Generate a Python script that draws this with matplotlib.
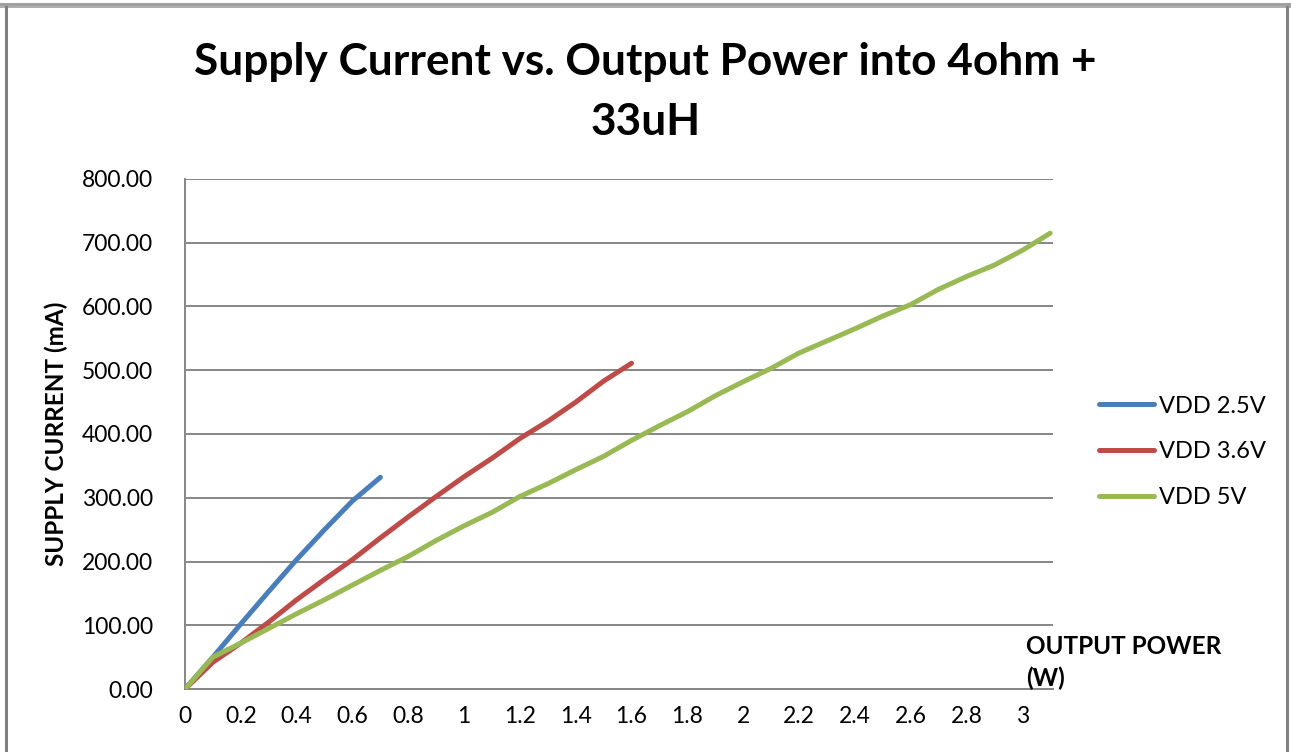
import matplotlib
matplotlib.use("Agg")
import matplotlib.pyplot as plt
from matplotlib.lines import Line2D

plt.rcParams["font.family"] = ["Lato", "DejaVu Sans"]

# ── Data ────────────────────────────────────────────────────────────────────
power_25 = [0, 0.1, 0.2, 0.3, 0.4, 0.5, 0.6, 0.7]
current_25 = [0, 50, 102, 153, 203, 250, 295, 332]

power_36 = [0, 0.1, 0.2, 0.3, 0.4, 0.5, 0.6, 0.7, 0.8, 0.9, 1.0, 1.1, 1.2,
            1.3, 1.4, 1.5, 1.6]
current_36 = [0, 42, 72, 105, 140, 172, 203, 237, 270, 302, 333, 362, 393,
              420, 450, 483, 511]

power_50 = [0, 0.1, 0.2, 0.3, 0.4, 0.5, 0.6, 0.7, 0.8, 0.9, 1.0, 1.1, 1.2,
            1.3, 1.4, 1.5, 1.6, 1.7, 1.8, 1.9, 2.0, 2.1, 2.2, 2.3, 2.4, 2.5,
            2.6, 2.7, 2.8, 2.9, 3.0, 3.1]
current_50 = [0, 50, 72, 95, 118, 140, 163, 186, 208, 233, 256, 277, 302,
              322, 344, 365, 390, 413, 435, 460, 482, 503, 527, 546, 565, 585,
              603, 627, 647, 665, 688, 715]

series_labels = ["VDD 2.5V", "VDD 3.6V", "VDD 5V"]
x_ticks = [0, 0.2, 0.4, 0.6, 0.8, 1, 1.2, 1.4, 1.6, 1.8, 2, 2.2, 2.4, 2.6,
           2.8, 3]
x_tick_labels = ["0", "0.2", "0.4", "0.6", "0.8", "1", "1.2", "1.4", "1.6",
                 "1.8", "2", "2.2", "2.4", "2.6", "2.8", "3"]
y_ticks = [0, 100, 200, 300, 400, 500, 600, 700, 800]

COLORS = ["#4A7EBB", "#BE4B48", "#98B954"]
GRID = "#868686"

W, H = 1291, 752
fig = plt.figure(figsize=(W / 100, H / 100), dpi=100)
ax = fig.add_axes([185 / W, 1 - 689 / H, (1053 - 185) / W, (689 - 179) / H])

for px, cy, col, lab in zip([power_25, power_36, power_50],
                            [current_25, current_36, current_50],
                            COLORS, series_labels):
    ax.plot(px, cy, color=col, lw=3.6, label=lab, solid_capstyle="round",
            solid_joinstyle="round", zorder=3)

ax.set_xlim(0, 3.11)
ax.set_ylim(0, 800)
ax.set_xticks(x_ticks)
ax.set_xticklabels(x_tick_labels)
ax.set_yticks(y_ticks)
ax.set_yticklabels([f"{v:.2f}" for v in y_ticks])
ax.tick_params(axis="both", length=0, labelsize=16.5, colors="black")
ax.tick_params(axis="y", pad=23)
ax.tick_params(axis="x", pad=12)
ax.yaxis.grid(True, color=GRID, lw=1.4)
ax.set_axisbelow(True)
for side in ["top", "right"]:
    ax.spines[side].set_visible(False)
ax.spines["left"].set_color(GRID)
ax.spines["left"].set_linewidth(1.4)
ax.spines["bottom"].set_color(GRID)
ax.spines["bottom"].set_linewidth(1.4)

ax.set_ylabel("SUPPLY CURRENT (mA)", fontsize=17.5, fontweight="bold",
              labelpad=10)

fig.text(1026 / W, 1 - 635 / H, "OUTPUT POWER\n(W)", fontsize=17.5,
         fontweight="bold", ha="left", va="top", linespacing=1.45)

fig.text(0.5, 1 - 62 / H, "Supply Current vs. Output Power into 4ohm +",
         fontsize=31.8, fontweight="bold", ha="center", va="center")
fig.text(0.5, 1 - 122 / H, "33uH", fontsize=31.8, fontweight="bold",
         ha="center", va="center")

ax.legend(loc="center left", bbox_to_anchor=(1099 / W, 1 - 452 / H),
          bbox_transform=fig.transFigure, frameon=False, fontsize=17,
          handlelength=2.35, handletextpad=0.2, labelspacing=1.05,
          borderaxespad=0, borderpad=0)

# outer chart frame
fig.add_artist(Line2D([0, 1], [1 - 4 / H, 1 - 4 / H], color="#A0A0A0",
                      lw=2.2, transform=fig.transFigure))
fig.add_artist(Line2D([0, 1], [1 - 7 / H, 1 - 7 / H], color="#A0A0A0",
                      lw=1.2, transform=fig.transFigure))
fig.add_artist(Line2D([6 / W, 6 / W], [0, 1 - 7 / H], color="#808080",
                      lw=2.2, transform=fig.transFigure))
fig.add_artist(Line2D([1287 / W, 1287 / W], [0, 1 - 7 / H], color="#808080",
                      lw=2.2, transform=fig.transFigure))

fig.savefig("out.png", dpi=100)
